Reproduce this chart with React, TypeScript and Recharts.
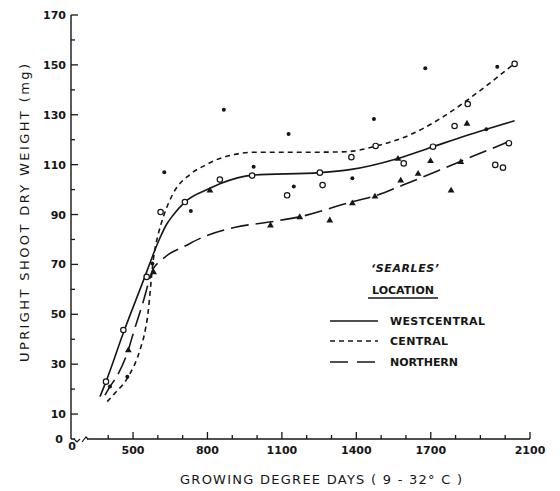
import React from 'react';
import { ComposedChart, Line, Scatter, XAxis, YAxis } from 'recharts';

const INK = '#161616';
const FONT = '"DejaVu Sans", sans-serif';

// fitted curves (growing degree days -> mg)
const westX = [367, 391, 459, 555, 580, 608, 635, 662, 709, 810, 850, 982, 1253, 1374, 1568, 1709, 1924, 2038];
const westY = [17, 23, 42, 67, 73.7, 80.5, 86, 89.8, 95, 100.5, 102.3, 105.8, 106.8, 108, 112.5, 117.2, 124.2, 127.6];

const centralX = [396, 427, 481, 528, 550, 561, 568, 575, 582, 590, 600, 622, 662, 729, 796, 850, 998, 1250, 1360, 1481, 1615, 1750, 1884, 2038];
const centralY = [15, 18.4, 25, 35.7, 44, 51, 58, 65.5, 72, 77, 81.5, 89, 98.5, 106, 110, 112.5, 115, 115, 115.2, 117.5, 121.9, 129.2, 138.6, 150.6];

const northX = [387, 407, 434, 481, 501, 539, 568, 578, 590, 608, 649, 702, 783, 917, 1051, 1172, 1387, 1474, 1588, 1817, 2031];
const northY = [17.6, 21, 25, 35.7, 42.4, 54.4, 64.5, 67.5, 69.5, 71.2, 74.4, 77, 81, 85, 87, 89.1, 95.2, 97.4, 101.8, 111.2, 119.9];

// observed points
const circleX = [391, 461, 555, 611, 709, 850, 980, 1121, 1253, 1264, 1380, 1478, 1591, 1709, 1796, 1849, 1960, 1991, 2015, 2038];
const circleY = [23, 43.7, 65, 91, 95, 104, 105.6, 97.7, 106.8, 101.8, 113, 117.5, 110.5, 117.2, 125.5, 134.3, 109.9, 108.8, 118.6, 150.4];

const dotX = [407, 477, 578, 626, 733, 866, 986, 1127, 1148, 1384, 1471, 1678, 1924, 1968];
const dotY = [21, 25, 70.4, 107, 91.4, 132, 109.2, 122.3, 101.2, 104.5, 128.3, 148.6, 124.2, 149.3];

const triX = [481, 583, 810, 1054, 1172, 1293, 1384, 1475, 1568, 1579, 1649, 1699, 1782, 1821, 1846];
const triY = [35.7, 67, 99.8, 85.8, 89.1, 87.8, 94.7, 97.4, 112.5, 103.8, 106.5, 111.6, 99.8, 111.2, 126.6];

const xTicks = [250, 400, 500, 600, 700, 800, 900, 1000, 1100, 1200, 1300, 1400, 1500, 1600, 1700, 1800, 1900, 2000, 2100];
const xLabelled = [500, 800, 1100, 1400, 1700, 2100];
const yTicks = [0, 10, 20, 30, 40, 50, 60, 70, 80, 90, 100, 110, 120, 130, 140, 150, 160, 170];
const yLabelled = [0, 10, 30, 50, 70, 90, 110, 130, 150, 170];

const zip = (xs: number[], ys: number[]) => xs.map((x, i) => ({ x, y: ys[i] }));

function XTick(props: any) {
  const { x, y, payload } = props;
  const v = payload.value;
  const isZero = v === 250;
  const major = xLabelled.includes(v);
  return (
    <g>
      {!isZero && (
        <line x1={x} x2={x} y1={y} y2={y - (major ? 7 : 4)} stroke={INK} strokeWidth={1.3} />
      )}
      {(major || isZero) && (
        <text x={x + (isZero ? 1 : 0)} y={y + (isZero ? 11 : 15)} textAnchor="middle" fontSize={11}
          fontWeight="bold" fontFamily={FONT} fill={INK}>
          {isZero ? '0' : v}
        </text>
      )}
    </g>
  );
}

function YTick(props: any) {
  const { x, y, payload } = props;
  const v = payload.value;
  const major = yLabelled.includes(v);
  return (
    <g>
      {v !== 0 && <line x1={x} x2={x + (major ? 7 : 4)} y1={y} y2={y} stroke={INK} strokeWidth={1.3} />}
      {major && (
        <text x={x - (v === 0 ? 8 : 5)} y={y + 4} textAnchor="end" fontSize={11} fontWeight="bold"
          fontFamily={FONT} fill={INK}>
          {v}
        </text>
      )}
    </g>
  );
}

const OpenCircle = (p: any) => <circle cx={p.cx} cy={p.cy} r={2.7} fill="#fff" stroke={INK} strokeWidth={1.2} />;
const FilledDot = (p: any) => <circle cx={p.cx} cy={p.cy} r={2} fill={INK} />;
const Triangle = (p: any) => (
  <path d={`M${p.cx},${p.cy - 3.4} L${p.cx + 3.4},${p.cy + 2.4} L${p.cx - 3.4},${p.cy + 2.4} Z`} fill={INK} />
);

export default function App() {
  return (
    <div style={{ position: 'absolute', left: 0, top: 0, width: 560, height: 491, background: '#fff' }}>
      <ComposedChart width={560} height={491} margin={{ top: 15, right: 30, bottom: 0, left: 0 }}>
        <XAxis
          type="number"
          dataKey="x"
          domain={[250, 2100]}
          ticks={xTicks}
          interval={0}
          allowDataOverflow
          height={52}
          tickSize={0}
          tickMargin={0}
          tickLine={false}
          axisLine={{ stroke: INK, strokeWidth: 1.4 }}
          tick={<XTick />}
        />
        <YAxis
          type="number"
          dataKey="y"
          domain={[0, 170]}
          ticks={yTicks}
          interval={0}
          allowDataOverflow
          width={71}
          tickSize={0}
          tickMargin={0}
          tickLine={false}
          axisLine={{ stroke: INK, strokeWidth: 1.4 }}
          tick={<YTick />}
        />
        <Line data={zip(westX, westY)} dataKey="y" type="monotone" stroke={INK} strokeWidth={1.6}
          dot={false} activeDot={false} isAnimationActive={false} />
        <Line data={zip(centralX, centralY)} dataKey="y" type="monotone" stroke={INK} strokeWidth={1.6}
          strokeDasharray="5 4" dot={false} activeDot={false} isAnimationActive={false} />
        <Line data={zip(northX, northY)} dataKey="y" type="monotone" stroke={INK} strokeWidth={1.6}
          strokeDasharray="18 7" dot={false} activeDot={false} isAnimationActive={false} />
        <Scatter data={zip(circleX, circleY)} dataKey="y" shape={<OpenCircle />} isAnimationActive={false} />
        <Scatter data={zip(dotX, dotY)} dataKey="y" shape={<FilledDot />} isAnimationActive={false} />
        <Scatter data={zip(triX, triY)} dataKey="y" shape={<Triangle />} isAnimationActive={false} />
      </ComposedChart>

      {/* titles, legend and the axis break */}
      <svg width={560} height={491} style={{ position: 'absolute', left: 0, top: 0, pointerEvents: 'none' }}>
        <g fontFamily={FONT} fill={INK}>
          <text transform="translate(24,213) rotate(-90)" y={5} textAnchor="middle" fontSize={13}
            textLength={298} lengthAdjust="spacing">
            UPRIGHT SHOOT DRY WEIGHT (mg)
          </text>
          <text x={180} y={484} fontSize={13} textLength={282} lengthAdjust="spacing">
            GROWING DEGREE DAYS ( 9 - 32° C )
          </text>

          <text x={405} y={272} textAnchor="middle" fontSize={11} fontStyle="italic" fontWeight="bold"
            textLength={68} lengthAdjust="spacing">
            ‘SEARLES’
          </text>
          <text x={403} y={294} textAnchor="middle" fontSize={11} fontWeight="bold"
            textLength={62} lengthAdjust="spacing">
            LOCATION
          </text>
          <line x1={368} x2={438} y1={298} y2={298} stroke={INK} strokeWidth={1.4} />

          <line x1={330} x2={378} y1={321} y2={321} stroke={INK} strokeWidth={1.6} />
          <line x1={330} x2={378} y1={341} y2={341} stroke={INK} strokeWidth={1.6} strokeDasharray="5 4" />
          <line x1={330} x2={378} y1={362} y2={362} stroke={INK} strokeWidth={1.6} strokeDasharray="18 9" />
          <text x={390} y={325} fontSize={11} fontWeight="bold" textLength={95} lengthAdjust="spacing">WESTCENTRAL</text>
          <text x={390} y={345} fontSize={11} fontWeight="bold" textLength={58} lengthAdjust="spacing">CENTRAL</text>
          <text x={390} y={366} fontSize={11} fontWeight="bold" textLength={68} lengthAdjust="spacing">NORTHERN</text>
        </g>
        <rect x={75} y={434} width={12} height={8} fill="#fff" />
        <path d="M74,439 L77,442 L80,439" fill="none" stroke={INK} strokeWidth={1.2} />
        <path d="M82,442 L86,437 L88,439" fill="none" stroke={INK} strokeWidth={1.2} />
      </svg>
    </div>
  );
}
